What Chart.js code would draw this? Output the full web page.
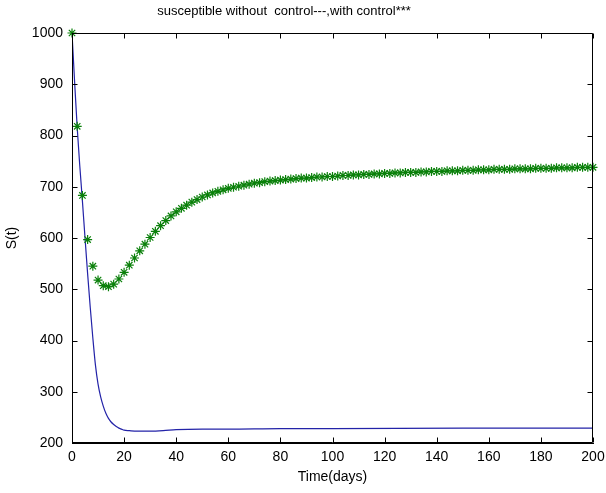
<!DOCTYPE html>
<html>
<head>
<meta charset="utf-8">
<script src="https://cdn.jsdelivr.net/npm/chart.js@4.4.1/dist/chart.umd.min.js"></script>
<style>
  html, body { margin: 0; padding: 0; background: #fff; }
  #wrap { width: 606px; height: 493px; }
</style>
</head>
<body>
<div id="wrap"><canvas id="chart" width="606" height="493"></canvas></div>
<script>
// susceptible with control (green stars), one marker every 2 days
const controlDays = [
    0, 2, 4, 6, 8, 10, 12, 14, 16, 18, 20, 22, 24, 26, 28, 30, 32, 34, 36, 38,
    40, 42, 44, 46, 48, 50, 52, 54, 56, 58, 60, 62, 64, 66, 68, 70, 72, 74, 76, 78,
    80, 82, 84, 86, 88, 90, 92, 94, 96, 98, 100, 102, 104, 106, 108, 110, 112, 114, 116, 118,
    120, 122, 124, 126, 128, 130, 132, 134, 136, 138, 140, 142, 144, 146, 148, 150, 152, 154, 156, 158,
    160, 162, 164, 166, 168, 170, 172, 174, 176, 178, 180, 182, 184, 186, 188, 190, 192, 194, 196, 198, 200
];
const withControl = [
    1000, 818, 683, 597, 545, 518, 507, 505, 510, 520, 533, 547, 561, 575, 588, 601, 613, 624, 634, 643,
    651, 658, 664, 670, 675, 680, 684, 688, 691, 694, 697, 699, 701, 703, 705, 707, 708, 710, 711, 712,
    713, 714, 715, 716, 717, 717, 718, 719, 719, 720, 720, 721, 722, 722, 723, 723, 724, 724, 725, 725,
    726, 726, 727, 727, 728, 728, 728, 729, 729, 730, 730, 730, 731, 731, 731, 732, 732, 732, 733, 733,
    733, 734, 734, 734, 734, 735, 735, 735, 735, 736, 736, 736, 736, 737, 737, 737, 737, 738, 738, 738, 738
];

// susceptible without control (blue line)
const noControlDays = [0, 1, 2, 3, 4, 5, 6, 7, 8, 9, 10, 11, 12, 13, 14, 15, 16, 17, 18, 19, 20,
    22, 25, 30, 35, 40, 50, 60, 80, 100, 150, 200];
const withoutControl = [1000, 905, 815, 740, 672, 600, 530, 465, 405, 352, 315, 290, 272, 258, 248, 241, 236, 232, 229, 227, 225,
    224, 223, 223, 224, 226, 227, 227, 228, 228, 229, 229];

const xTicks = [0, 20, 40, 60, 80, 100, 120, 140, 160, 180, 200];
const yTicks = [200, 300, 400, 500, 600, 700, 800, 900, 1000];

const titleText = 'susceptible without  control---,with control***';
const fontFamily = 'Arial, "Liberation Sans", Helvetica, sans-serif';

// MATLAB-like box: frame on all sides, ticks pointing inward, title
const matlabBox = {
    id: 'matlabBox',
    afterDraw(chart) {
        const { ctx, chartArea: a, scales: { x, y } } = chart;
        const L = Math.round(a.left) + 0.5, R = Math.round(a.right) - 0.5;
        const T = Math.round(a.top) + 0.5, B = Math.round(a.bottom) - 0.5;
        const len = 5;
        ctx.save();
        ctx.strokeStyle = '#000';
        ctx.lineWidth = 1;
        ctx.beginPath();
        ctx.rect(L, T, R - L, B - T);
        xTicks.forEach(v => {
            const px = Math.round(x.getPixelForValue(v)) + 0.5;
            ctx.moveTo(px, B); ctx.lineTo(px, B - len);
            ctx.moveTo(px, T); ctx.lineTo(px, T + len);
        });
        yTicks.forEach(v => {
            const py = Math.round(y.getPixelForValue(v)) + 0.5;
            ctx.moveTo(L, py); ctx.lineTo(L + len, py);
            ctx.moveTo(R, py); ctx.lineTo(R - len, py);
        });
        ctx.stroke();

        ctx.fillStyle = '#000';
        ctx.font = '13px ' + fontFamily;
        ctx.textAlign = 'center';
        ctx.textBaseline = 'middle';
        ctx.fillText(titleText, 284, 11);
        ctx.restore();
    }
};

new Chart(document.getElementById('chart'), {
    type: 'scatter',
    data: {
        datasets: [
            {
                label: 'with control',
                data: controlDays.map((d, i) => ({ x: d, y: withControl[i] })),
                showLine: false,
                pointStyle: 'star',
                pointRadius: 4.5,
                pointBorderWidth: 1.2,
                borderColor: '#0a800a',
                backgroundColor: '#0a800a',
                clip: false,
                order: 0
            },
            {
                label: 'without control',
                data: noControlDays.map((d, i) => ({ x: d, y: withoutControl[i] })),
                showLine: true,
                borderColor: '#2323a8',
                borderWidth: 1.2,
                pointRadius: 0,
                cubicInterpolationMode: 'monotone',
                order: 1
            }
        ]
    },
    options: {
        responsive: false,
        animation: false,
        events: [],
        layout: { padding: { top: 33, right: 13, left: 0, bottom: 0 } },
        plugins: {
            legend: { display: false },
            title: { display: false },
            tooltip: { enabled: false }
        },
        scales: {
            x: {
                type: 'linear',
                min: 0,
                max: 200,
                afterFit: s => { s.height = 50; s.paddingRight = 0; s.paddingLeft = 0; },
                afterBuildTicks: s => { s.ticks = xTicks.map(v => ({ value: v })); },
                ticks: {
                    color: '#000', padding: 6, maxRotation: 0,
                    font: { size: 14, family: fontFamily },
                    callback: v => String(v)
                },
                grid: { display: true, drawOnChartArea: false, drawTicks: false },
                border: { display: true, color: '#000' },
                title: {
                    display: true,
                    text: 'Time(days)',
                    color: '#000',
                    font: { size: 14, family: fontFamily },
                    padding: { top: 0, bottom: 7 }
                }
            },
            y: {
                type: 'linear',
                min: 200,
                max: 1000,
                afterFit: s => { s.width = 72; s.paddingTop = 0; s.paddingBottom = 0; },
                afterBuildTicks: s => { s.ticks = yTicks.map(v => ({ value: v })); },
                ticks: {
                    color: '#000', padding: 9,
                    font: { size: 14, family: fontFamily },
                    callback: v => String(v)
                },
                grid: { display: true, drawOnChartArea: false, drawTicks: false },
                border: { display: true, color: '#000' },
                title: {
                    display: true,
                    text: 'S(t)',
                    color: '#000',
                    font: { size: 14, family: fontFamily },
                    padding: { top: 4, bottom: 0 }
                }
            }
        }
    },
    plugins: [matlabBox]
});
</script>
</body>
</html>
